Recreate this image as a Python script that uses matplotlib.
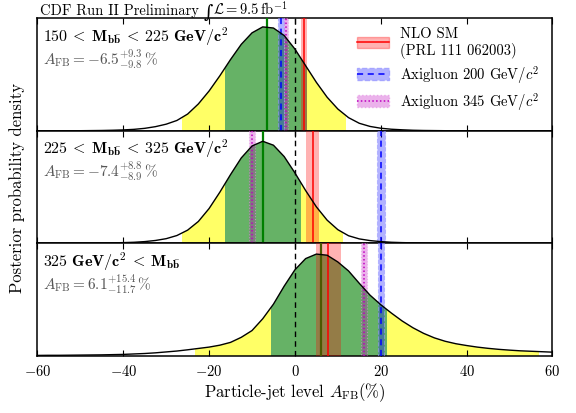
import numpy as np
import matplotlib
matplotlib.use("Agg")
import matplotlib.pyplot as plt
from matplotlib.patches import Rectangle, Patch
from matplotlib.lines import Line2D

plt.rcParams['font.family'] = ['cmr10', 'DejaVu Serif']
plt.rcParams['mathtext.fontset'] = 'cm'
plt.rcParams['axes.formatter.use_mathtext'] = True
plt.rcParams['axes.unicode_minus'] = True

# ---------------- data ----------------
x_grid = [-60, -57.5, -55, -52.5, -50, -47.5, -45, -42.5, -40, -37.5,
          -35, -32.5, -30, -27.5, -25, -22.5, -20, -17.5, -15, -12.5,
          -10, -7.5, -5, -2.5, 0, 2.5, 5, 7.5, 10, 12.5,
          15, 17.5, 20, 22.5, 25, 27.5, 30, 32.5, 35, 37.5,
          40, 42.5, 45, 47.5, 50, 52.5, 55, 57.5, 60]

density_low = [0.001, 0.001, 0.001, 0.002, 0.002, 0.003, 0.004, 0.006, 0.009, 0.014,
               0.023, 0.038, 0.060, 0.093, 0.150, 0.240, 0.355, 0.490, 0.635, 0.770,
               0.872, 0.925, 0.915, 0.848, 0.728, 0.580, 0.432, 0.300, 0.195, 0.118,
               0.068, 0.040, 0.024, 0.015, 0.010, 0.006, 0.004, 0.003, 0.002, 0.002,
               0.001, 0.001, 0.001, 0.001, 0.001, 0.001, 0.001, 0.001, 0.001]

density_mid = [0.001, 0.001, 0.001, 0.002, 0.002, 0.003, 0.004, 0.005, 0.007, 0.010,
               0.016, 0.026, 0.042, 0.070, 0.118, 0.195, 0.310, 0.455, 0.612, 0.760,
               0.866, 0.908, 0.873, 0.772, 0.627, 0.470, 0.325, 0.207, 0.122, 0.068,
               0.040, 0.025, 0.016, 0.010, 0.007, 0.005, 0.003, 0.002, 0.002, 0.001,
               0.001, 0.001, 0.001, 0.001, 0.001, 0.001, 0.001, 0.001, 0.001]

density_high = [0.004, 0.005, 0.005, 0.006, 0.007, 0.008, 0.009, 0.011, 0.013, 0.017,
                0.021, 0.027, 0.035, 0.043, 0.054, 0.066, 0.078, 0.095, 0.120, 0.165,
                0.225, 0.330, 0.460, 0.620, 0.765, 0.865, 0.905, 0.895, 0.835, 0.755,
                0.645, 0.540, 0.455, 0.380, 0.310, 0.250, 0.200, 0.160, 0.130, 0.108,
                0.092, 0.078, 0.067, 0.058, 0.051, 0.045, 0.041, 0.037, 0.033]

central = [-6.5, -7.4, 6.1]
err_up = [9.3, 8.8, 15.4]
err_dn = [9.8, 8.9, 11.7]
int95_lo = [-26.4, -26.4, -23.3]
int95_hi = [12.0, 11.1, 56.8]

sm_val = [2.1, 4.1, 7.6]
sm_lo = [1.4, 2.7, 5.0]
sm_hi = [2.8, 5.65, 10.7]
axi200_val = [-3.3, 20.1, 20.1]
axi200_lo = [-4.0, 19.2, 19.4]
axi200_hi = [-2.65, 21.0, 20.8]
axi345_val = [-2.1, -10.0, 16.1]
axi345_lo = [-2.65, -10.6, 15.5]
axi345_hi = [-1.5, -9.2, 16.7]

mass_labels = [r"$\mathbf{150}\:<\:\mathbf{M}_{\mathbf{b\bar{b}}}\:<\:\mathbf{225\ GeV}/\mathbf{c^2}$",
               r"$\mathbf{225}\:<\:\mathbf{M}_{\mathbf{b\bar{b}}}\:<\:\mathbf{325\ GeV}/\mathbf{c^2}$",
               r"$\mathbf{325\ GeV}/\mathbf{c^2}\:<\:\mathbf{M}_{\mathbf{b\bar{b}}}$"]
afb_labels = [r"$A_{\rm FB} = -6.5^{+9.3}_{-9.8}\,\%$",
              r"$A_{\rm FB} = -7.4^{+8.8}_{-8.9}\,\%$",
              r"$A_{\rm FB} = 6.1^{+15.4}_{-11.7}\,\%$"]
densities = [density_low, density_mid, density_high]
x_ticks = [-60, -40, -20, 0, 20, 40, 60]

# ---------------- figure ----------------
fig = plt.figure(figsize=(5.76, 4.14), dpi=100)
gs = fig.add_gridspec(3, 1, left=0.065, right=0.959, top=0.953, bottom=0.138, hspace=0)
axes = [fig.add_subplot(gs[i]) for i in range(3)]

YELLOW = '#ffff66'
GREEN = '#66b266'

for i, ax in enumerate(axes):
    xs = np.array(x_grid)
    ys = np.array(densities[i])
    yel = ax.fill_between(xs, 0, ys, facecolor=YELLOW, edgecolor='none', zorder=1)
    yel.set_clip_path(Rectangle((int95_lo[i], 0), int95_hi[i] - int95_lo[i], 2,
                                transform=ax.transData))
    lo68 = central[i] - err_dn[i]
    hi68 = central[i] + err_up[i]
    grn = ax.fill_between(xs, 0, ys, facecolor=GREEN, edgecolor='none', zorder=2)
    grn.set_clip_path(Rectangle((lo68, 0), hi68 - lo68, 2, transform=ax.transData))
    ax.axvline(central[i], color='green', lw=1.6, zorder=3)

    # model bands
    ax.axvspan(sm_lo[i], sm_hi[i], facecolor=(1, 0, 0, 0.3), edgecolor='none', zorder=4)
    ax.axvline(sm_val[i], color='red', lw=1.1, zorder=5)
    ax.axvspan(axi200_lo[i], axi200_hi[i], facecolor=(0, 0, 1, 0.3),
               edgecolor=(0.6, 0.6, 1, 0.6), ls='--', lw=0.8, zorder=4)
    ax.axvline(axi200_val[i], color='blue', ls=(0, (4, 3)), lw=1.1, zorder=5)
    ax.axvspan(axi345_lo[i], axi345_hi[i], facecolor=(0.75, 0, 0.75, 0.3),
               edgecolor=(0.9, 0.6, 0.9, 0.6), ls=':', lw=0.8, zorder=4)
    ax.axvline(axi345_val[i], color='m', ls=(0, (1, 1.5)), lw=1.1, zorder=5)

    ax.axvline(0, color='black', ls=(0, (4, 3)), lw=1.0, zorder=5)
    ax.plot(xs, ys, color='black', lw=1.0, zorder=6)

    ax.set_xlim(-60, 60)
    ax.set_ylim(0, 1)
    ax.set_yticks([])
    ax.set_xticks(x_ticks)
    ax.tick_params(axis='x', direction='in', top=True, bottom=True, length=4,
                   labelsize=10.5, pad=5)
    if i < 2:
        ax.tick_params(axis='x', labelbottom=False)
    for sp in ax.spines.values():
        sp.set_linewidth(1.1)

    ax.text(0.01, 0.95, mass_labels[i], transform=ax.transAxes, fontsize=11.5,
            va='top', ha='left', zorder=10)
    ax.text(0.01, 0.75, afb_labels[i], transform=ax.transAxes, fontsize=11,
            va='top', ha='left', color='#555555', zorder=10)

t1 = axes[0].text(0.005, 1.04, "CDF Run II Preliminary ", transform=axes[0].transAxes,
                  fontsize=10.5, va='baseline', ha='left')
axes[0].annotate("\u222b", xy=(1, 0), xycoords=t1, fontsize=13,
                 family='DejaVu Serif', va='bottom', ha='left',
                 xytext=(0, -3.0), textcoords='offset points')
axes[0].annotate(r"$\mathcal{L} = 9.5\,\mathrm{fb}^{-1}$", xy=(1, 0), xycoords=t1,
                 xytext=(7, 0), textcoords='offset points', fontsize=10.5,
                 va='bottom', ha='left')

handles = [
    (Patch(facecolor=(1, 0, 0, 0.3), edgecolor=(1, 0, 0, 0.3)),
     Line2D([], [], color='red', lw=1.1)),
    (Patch(facecolor=(0, 0, 1, 0.3), edgecolor=(0.6, 0.6, 1, 0.8), ls='--'),
     Line2D([], [], color='blue', ls=(0, (4, 3)), lw=1.1)),
    (Patch(facecolor=(0.75, 0, 0.75, 0.3), edgecolor=(0.9, 0.6, 0.9, 0.8), ls=':'),
     Line2D([], [], color='m', ls=(0, (1, 1.5)), lw=1.1)),
]
labels = ["NLO SM\n(PRL 111 062003)", r"Axigluon 200 GeV$/c^2$", r"Axigluon 345 GeV$/c^2$"]
axes[0].legend(handles, labels, loc='upper left', bbox_to_anchor=(0.62, 0.93),
               frameon=False, fontsize=10.5, borderpad=0, borderaxespad=0,
               handlelength=2.2, handleheight=0.8, handletextpad=0.8, labelspacing=0.35)

axes[2].set_xlabel(r"Particle-jet level $A_{\rm FB}(\%)$", fontsize=12, labelpad=2)
fig.text(0.03, 0.545, "Posterior probability density", rotation=90, fontsize=12,
         va='center', ha='center')

fig.savefig("out.png", dpi=100)
